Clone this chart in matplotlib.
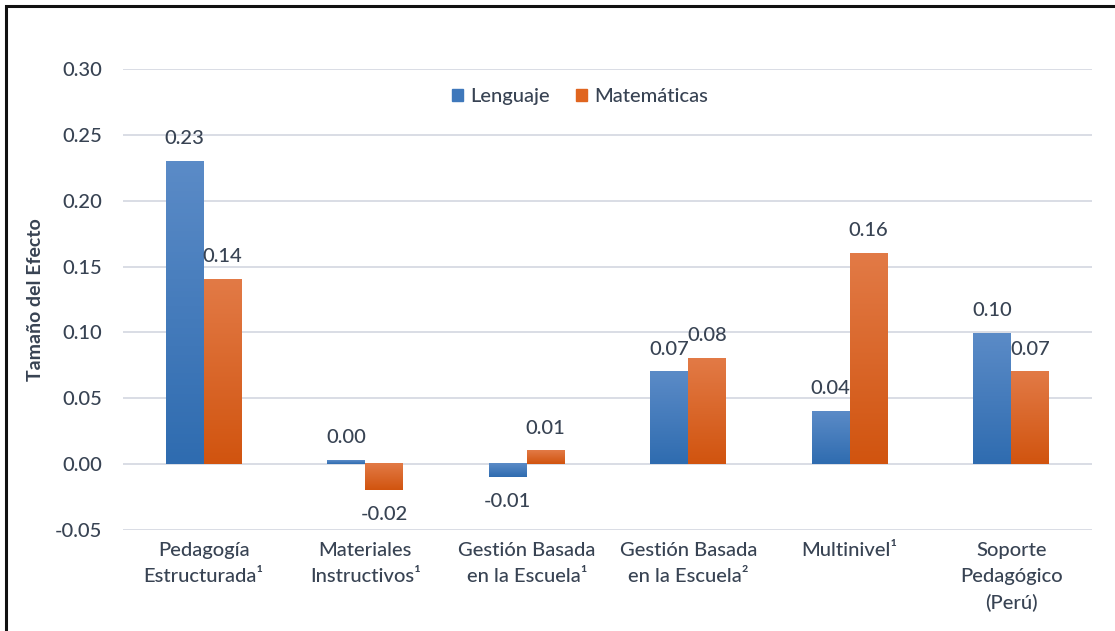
import numpy as np
import matplotlib.pyplot as plt
from matplotlib.colors import LinearSegmentedColormap
from matplotlib.patches import Rectangle

plt.rcParams['font.family'] = ['Lato', 'DejaVu Sans']
plt.rcParams['font.weight'] = 'medium'

categorias = ["Pedagogía\nEstructurada¹", "Materiales\nInstructivos¹",
              "Gestión Basada\nen la Escuela¹", "Gestión Basada\nen la Escuela²",
              "Multinivel¹", "Soporte\nPedagógico\n(Perú)"]
lenguaje = [0.23, 0.003, -0.01, 0.07, 0.04, 0.099]
matematicas = [0.14, -0.02, 0.01, 0.08, 0.16, 0.07]
series = ["Lenguaje", "Matemáticas"]

txt = '#384353'
grad = {
    "Lenguaje": ('#2f6cb0', '#5b8bc7'),
    "Matemáticas": ('#d1540f', '#e27a46'),
}
solid = {"Lenguaje": '#3f78bb', "Matemáticas": '#e0651f'}

fig = plt.figure(figsize=(11.15, 6.31), dpi=100)
ax = fig.add_axes([0.1103, 0.1601, 0.8691, 0.7305])

x = np.arange(len(categorias))
w = 0.235
ramp = np.linspace(0, 1, 100).reshape(-1, 1)

for k, (nombre, vals) in enumerate(zip(series, [lenguaje, matematicas])):
    pos = x - w / 2 + k * w
    bars = ax.bar(pos, vals, w, color=solid[nombre], label=nombre, zorder=2)
    cmap = LinearSegmentedColormap.from_list(nombre, grad[nombre])
    for b, v in zip(bars, vals):
        x0 = b.get_x()
        y0, y1 = sorted([0, v])
        b.set_alpha(0)
        ax.imshow(ramp, extent=[x0, x0 + w, y0, y1], cmap=cmap, origin='lower',
                  aspect='auto', zorder=3)
        off = 16.5 if v >= 0 else -17.5
        ax.annotate(f"{v:.2f}", (x0 + w / 2, v), xytext=(0, off),
                    textcoords='offset points', ha='center', va='center',
                    fontsize=14.5, color=txt)

ax.set_xlim(-0.5, len(categorias) - 0.5)
ax.set_ylim(-0.05, 0.30)
ax.set_yticks(np.arange(-0.05, 0.301, 0.05))
ax.yaxis.set_major_formatter(plt.FuncFormatter(lambda v, p: f"{v:.2f}"))
ax.set_xticks(x)
ax.set_xticklabels(categorias, fontsize=14.5, color=txt, linespacing=1.62)
ax.tick_params(axis='y', labelsize=14.5, labelcolor=txt, length=0, pad=15)
ax.tick_params(axis='x', length=0, pad=9)
ax.grid(axis='y', color='#d9dde5', lw=1.4, zorder=0)
for s in ax.spines.values():
    s.set_visible(False)
ax.set_ylabel("Tamaño del Efecto", fontsize=14, fontweight='bold', color=txt, labelpad=8)

handles = [Rectangle((0, 0), 1, 1, color=solid[s]) for s in series]
ax.legend(handles, series, loc='center', bbox_to_anchor=(0.4716, 0.941), ncol=2,
          frameon=False, fontsize=14.5, handlelength=0.55, handleheight=0.55,
          handletextpad=0.35, columnspacing=1.3, labelcolor=txt)

fig.patches.append(Rectangle((6 / 1115, -0.1), 1.2, (631 - 6) / 631 + 0.1,
                             transform=fig.transFigure, fill=False, ec='#111111',
                             lw=2.2, zorder=10))

fig.savefig("out.png", dpi=100)
